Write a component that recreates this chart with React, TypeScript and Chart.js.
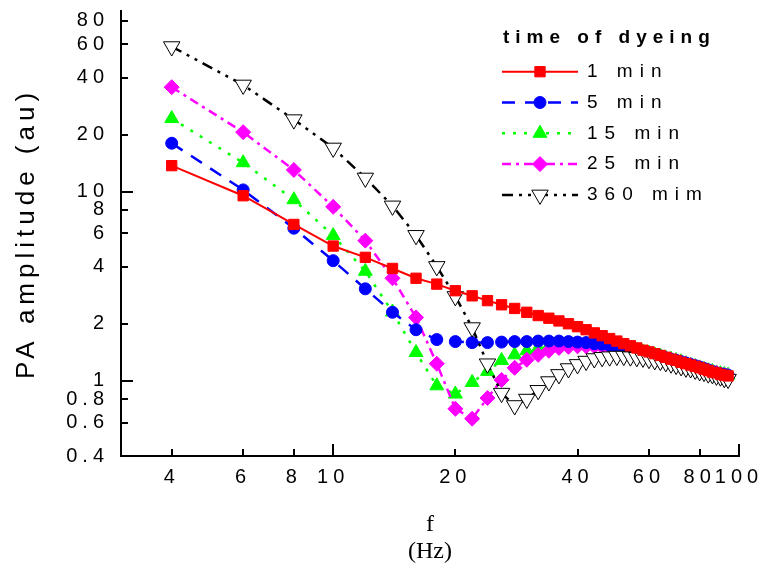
import React, { useEffect, useRef } from 'react';
import { Chart, registerables } from 'chart.js';

Chart.register(...registerables);

// ---- data ----
const frequencies = [4, 6, 8, 10, 12, 14, 16, 18, 20, 22, 24, 26, 28, 30, 32, 34, 36, 38, 40, 42, 44, 46, 48, 50, 52, 54, 56, 58, 60, 62, 64, 66, 68, 70, 72, 74, 76, 78, 80, 82, 84, 86, 88, 90, 92, 94];

const min1 = [13.7, 9.5, 6.7, 5.15, 4.49, 3.92, 3.48, 3.24, 2.99, 2.81, 2.65, 2.52, 2.41, 2.30, 2.21, 2.14, 2.07, 2.00, 1.93, 1.86, 1.79, 1.73, 1.67, 1.62, 1.57, 1.53, 1.49, 1.45, 1.42, 1.39, 1.36, 1.33, 1.30, 1.28, 1.25, 1.23, 1.21, 1.19, 1.17, 1.15, 1.13, 1.11, 1.10, 1.08, 1.07, 1.06];
const min5 = [18.0, 10.2, 6.4, 4.31, 3.06, 2.30, 1.86, 1.65, 1.61, 1.59, 1.59, 1.60, 1.61, 1.61, 1.62, 1.62, 1.62, 1.61, 1.60, 1.59, 1.57, 1.56, 1.54, 1.52, 1.50, 1.47, 1.45, 1.42, 1.40, 1.37, 1.35, 1.32, 1.30, 1.28, 1.26, 1.24, 1.22, 1.20, 1.18, 1.16, 1.14, 1.12, 1.10, 1.09, 1.08, 1.07];
const min15 = [24.3, 14.2, 9.05, 5.85, 3.79, 2.31, 1.41, 0.94, 0.85, 0.98, 1.12, 1.28, 1.37, 1.44, 1.49, 1.53, 1.55, 1.56, 1.56, 1.56, 1.55, 1.54, 1.53, 1.51, 1.49, 1.47, 1.45, 1.42, 1.40, 1.37, 1.35, 1.32, 1.30, 1.28, 1.26, 1.23, 1.21, 1.19, 1.17, 1.15, 1.13, 1.12, 1.10, 1.09, 1.08, 1.07];
const min25 = [35.6, 20.6, 13.0, 8.3, 5.5, 3.48, 2.16, 1.23, 0.71, 0.63, 0.81, 1.01, 1.17, 1.29, 1.37, 1.44, 1.49, 1.51, 1.52, 1.52, 1.52, 1.51, 1.50, 1.48, 1.46, 1.44, 1.42, 1.40, 1.38, 1.35, 1.33, 1.31, 1.29, 1.27, 1.25, 1.23, 1.21, 1.19, 1.17, 1.15, 1.13, 1.11, 1.10, 1.08, 1.07, 1.06];
const min360 = [58.4, 36.6, 24.0, 17.0, 11.8, 8.4, 5.87, 4.02, 2.79, 1.91, 1.23, 0.86, 0.74, 0.80, 0.89, 0.99, 1.08, 1.16, 1.22, 1.27, 1.31, 1.33, 1.34, 1.35, 1.35, 1.34, 1.33, 1.32, 1.30, 1.28, 1.27, 1.25, 1.23, 1.21, 1.19, 1.17, 1.16, 1.14, 1.12, 1.11, 1.09, 1.08, 1.06, 1.05, 1.03, 1.02];

const seriesLabels = ['1 min', '5 min', '15 min', '25 min', '360 mim'];
const legendTitle = 'time of dyeing';
const yTickValues = [0.4, 0.6, 0.8, 1, 2, 4, 6, 8, 10, 20, 40, 60, 80];
const xTickValues = [4, 6, 8, 10, 20, 40, 60, 80, 100];
const yAxisTitle = 'PA amplitude (au)';
const xAxisTitle = ['f', '(Hz)'];

const SANS = '"Liberation Sans", Arial, sans-serif';
const SERIF = '"Liberation Serif", "Times New Roman", serif';

function toPoints(values: number[]) {
  return frequencies.map((f, i) => ({ x: f, y: values[i] }));
}

function drawMarker(ctx: any, style: string, x: number, y: number, r: number, fill: string, stroke: string, bw: number, rot: number) {
  ctx.save();
  ctx.setLineDash([]);
  ctx.beginPath();
  if (style === 'circle') {
    ctx.arc(x, y, r, 0, Math.PI * 2);
  } else if (style === 'rect') {
    const s = Math.SQRT1_2 * r;
    ctx.rect(x - s, y - s, 2 * s, 2 * s);
  } else if (style === 'rectRot') {
    ctx.moveTo(x - r, y);
    ctx.lineTo(x, y - r);
    ctx.lineTo(x + r, y);
    ctx.lineTo(x, y + r);
    ctx.closePath();
  } else {
    let a = (rot * Math.PI) / 180;
    ctx.moveTo(x + Math.sin(a) * r, y - Math.cos(a) * r);
    a += (2 * Math.PI) / 3;
    ctx.lineTo(x + Math.sin(a) * r, y - Math.cos(a) * r);
    a += (2 * Math.PI) / 3;
    ctx.lineTo(x + Math.sin(a) * r, y - Math.cos(a) * r);
    ctx.closePath();
  }
  ctx.fillStyle = fill;
  ctx.fill();
  if (bw > 0) {
    ctx.lineWidth = bw;
    ctx.strokeStyle = stroke;
    ctx.stroke();
  }
  ctx.restore();
}

const refPlugin = {
  id: 'refStyle',
  beforeDraw(chart: any) {
    chart.ctx.letterSpacing = '0px';
  },
  beforeDatasetsDraw(chart: any) {
    const ctx = chart.ctx;
    const ca = chart.chartArea;
    const ys = chart.scales.y;
    const xs = chart.scales.x;
    ctx.save();
    ctx.strokeStyle = '#000';
    ctx.lineWidth = 2;
    ctx.setLineDash([]);
    ys.ticks.forEach((t: any) => {
      const lg = Math.log10(t.value);
      const major = Math.abs(lg - Math.round(lg)) < 1e-9;
      const py = Math.round(ys.getPixelForValue(t.value));
      ctx.beginPath();
      ctx.moveTo(ca.left, py);
      ctx.lineTo(ca.left + (major ? 12 : 7), py);
      ctx.stroke();
    });
    xs.ticks.forEach((t: any) => {
      const lg = Math.log10(t.value);
      const major = Math.abs(lg - Math.round(lg)) < 1e-9;
      const px = Math.round(xs.getPixelForValue(t.value));
      ctx.beginPath();
      ctx.moveTo(px, ca.bottom);
      ctx.lineTo(px, ca.bottom - (major ? 12 : 7));
      ctx.stroke();
    });
    ctx.restore();
  },
  afterDatasetsDraw(chart: any) {
    chart.ctx.letterSpacing = '5px';
  },
  afterDraw(chart: any) {
    const ctx = chart.ctx;
    const ca = chart.chartArea;
    const lx = ca.right - 237;
    const ty = ca.top + 27;
    ctx.save();
    ctx.fillStyle = '#000';
    ctx.textAlign = 'left';
    ctx.textBaseline = 'middle';
    ctx.letterSpacing = '6px';
    ctx.font = 'bold 19px ' + SANS;
    ctx.fillText(legendTitle, lx + 1, ty);
    chart.data.datasets.forEach((ds: any, i: number) => {
      const y = ty + 33.7 + i * 30.8;
      ctx.save();
      ctx.strokeStyle = ds.borderColor;
      ctx.lineWidth = ds.borderWidth;
      ctx.setLineDash(ds.borderDash || []);
      ctx.beginPath();
      ctx.moveTo(lx, y);
      ctx.lineTo(lx + 76, y);
      ctx.stroke();
      ctx.restore();
      drawMarker(ctx, ds.pointStyle, lx + 38, y, ds.pointRadius, ds.pointBackgroundColor, ds.pointBorderColor, ds.pointBorderWidth, ds.pointRotation || 0);
      ctx.letterSpacing = '7px';
      ctx.font = '19px ' + SANS;
      ctx.fillStyle = '#000';
      ctx.fillText(ds.label, lx + 85, y);
    });
    ctx.restore();
    ctx.letterSpacing = '0px';
  },
};

function zeroPadding(scale: any) {
  scale.paddingTop = 0;
  scale.paddingBottom = 0;
  scale.paddingLeft = 0;
  scale.paddingRight = 0;
}

export default function App() {
  const canvasRef = useRef<HTMLCanvasElement | null>(null);

  useEffect(() => {
    const canvas = canvasRef.current;
    if (!canvas) return;
    const chart = new Chart(canvas, {
      type: 'line',
      data: {
        datasets: [
          {
            label: seriesLabels[0],
            data: toPoints(min1),
            borderColor: '#ff0000',
            backgroundColor: '#ff0000',
            borderWidth: 2,
            borderDash: [],
            pointStyle: 'rect',
            pointRadius: 7.3,
            pointBackgroundColor: '#ff0000',
            pointBorderColor: '#ff0000',
            pointBorderWidth: 1,
            order: 0,
          },
          {
            label: seriesLabels[1],
            data: toPoints(min5),
            borderColor: '#0000ff',
            backgroundColor: '#0000ff',
            borderWidth: 2.5,
            borderDash: [13, 10],
            pointStyle: 'circle',
            pointRadius: 6,
            pointBackgroundColor: '#0000ff',
            pointBorderColor: '#0000ff',
            pointBorderWidth: 1,
            order: 2,
          },
          {
            label: seriesLabels[2],
            data: toPoints(min15),
            borderColor: '#00ff00',
            backgroundColor: '#00ff00',
            borderWidth: 2.5,
            borderDash: [3, 8],
            pointStyle: 'triangle',
            pointRadius: 8,
            pointBackgroundColor: '#00ff00',
            pointBorderColor: '#00ff00',
            pointBorderWidth: 1,
            order: 4,
          },
          {
            label: seriesLabels[3],
            data: toPoints(min25),
            borderColor: '#ff00ff',
            backgroundColor: '#ff00ff',
            borderWidth: 2.5,
            borderDash: [9, 5, 3, 5],
            pointStyle: 'rectRot',
            pointRadius: 7.5,
            pointBackgroundColor: '#ff00ff',
            pointBorderColor: '#ff00ff',
            pointBorderWidth: 1,
            order: 3,
          },
          {
            label: seriesLabels[4],
            data: toPoints(min360),
            borderColor: '#000000',
            backgroundColor: '#ffffff',
            borderWidth: 2.5,
            borderDash: [11, 6, 3, 6, 3, 6],
            pointStyle: 'triangle',
            pointRotation: 180,
            pointRadius: 9.5,
            pointBackgroundColor: '#ffffff',
            pointBorderColor: '#000000',
            pointBorderWidth: 1,
            order: 1,
          },
        ],
      },
      options: {
        responsive: false,
        maintainAspectRatio: false,
        devicePixelRatio: 1,
        animation: false,
        events: [],
        layout: { padding: { top: 11, right: 19, left: 0, bottom: 0 } },
        elements: { line: { tension: 0, fill: false } },
        plugins: {
          legend: { display: false },
          tooltip: { enabled: false },
          title: { display: false },
        },
        scales: {
          x: {
            type: 'logarithmic',
            min: 3,
            max: 100,
            afterBuildTicks: (scale: any) => {
              scale.ticks = xTickValues.map((v) => ({ value: v }));
            },
            afterFit: (scale: any) => {
              scale.height = 113;
              zeroPadding(scale);
            },
            grid: { display: true, drawOnChartArea: false, drawTicks: false },
            border: { display: true, color: '#000', width: 2 },
            ticks: {
              z: 1,
              autoSkip: false,
              maxRotation: 0,
              minRotation: 0,
              padding: 9,
              color: '#000',
              font: { family: SANS, size: 20 },
              callback: (v: any) => String(v),
            },
            title: {
              display: true,
              text: xAxisTitle,
              color: '#000',
              font: { family: SERIF, size: 24, lineHeight: 1.125 },
              padding: { top: 0, bottom: 4 },
            },
          },
          y: {
            type: 'logarithmic',
            min: 0.4,
            max: 90,
            afterBuildTicks: (scale: any) => {
              scale.ticks = yTickValues.map((v) => ({ value: v }));
            },
            afterFit: (scale: any) => {
              scale.width = 121;
              zeroPadding(scale);
            },
            grid: { display: true, drawOnChartArea: false, drawTicks: false, z: 1 },
            border: { display: true, color: '#000', width: 2, z: 1 },
            ticks: {
              z: 1,
              autoSkip: false,
              padding: 12,
              color: '#000',
              font: { family: SANS, size: 20 },
              callback: (v: any) => String(v),
            },
            title: {
              display: true,
              text: yAxisTitle,
              color: '#000',
              font: { family: SANS, size: 26 },
              padding: { top: 11, bottom: 0 },
            },
          },
        },
      } as any,
      plugins: [refPlugin as any],
    });
    return () => chart.destroy();
  }, []);

  return (
    <div style={{ position: 'absolute', left: 0, top: 0, width: 758, height: 569, background: '#fff' }}>
      <canvas ref={canvasRef} width={758} height={569} style={{ display: 'block', width: 758, height: 569 }} />
    </div>
  );
}
